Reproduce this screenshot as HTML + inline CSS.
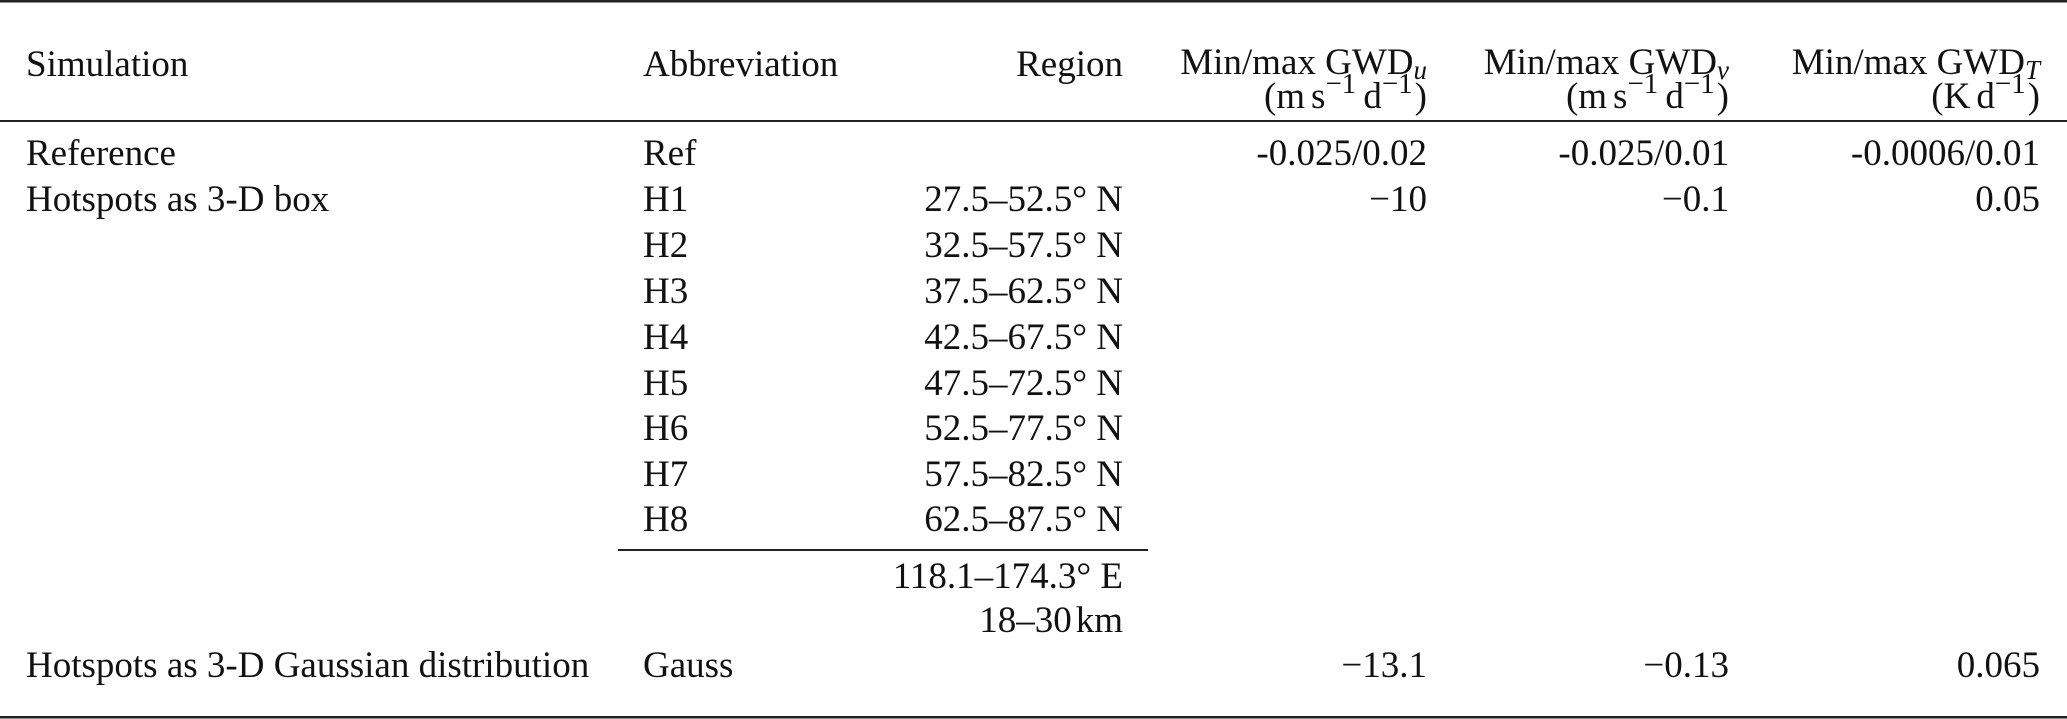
<!DOCTYPE html>
<html><head><meta charset="utf-8"><style>
html,body{margin:0;padding:0;background:#fff;}
svg{display:block;}
text{font-family:"Liberation Serif",serif;font-size:37px;fill:#111;}
</style></head><body>
<svg width="2067" height="719" viewBox="0 0 2067 719" xmlns="http://www.w3.org/2000/svg">
<rect x="0" y="0" width="2067" height="2.5" fill="#222"/>
<rect x="0" y="120" width="2067" height="2" fill="#222"/>
<rect x="618" y="549" width="530" height="2" fill="#222"/>
<rect x="0" y="716" width="2067" height="2.5" fill="#222"/>

<!-- header -->
<text x="26" y="76">Simulation</text>
<text x="643" y="76">Abbreviation</text>
<text x="1123" y="76" text-anchor="end">Region</text>

<text x="1427" y="74" text-anchor="end">Min/max GWD<tspan font-style="italic" font-size="27" dy="5">u</tspan></text>
<text x="1427" y="108" text-anchor="end">(m<tspan dx="6">s</tspan><tspan font-size="29" dy="-15">−1</tspan><tspan dy="15" dx="7">d</tspan><tspan font-size="29" dy="-15">−1</tspan><tspan dy="15" dx="2">)</tspan></text>

<text x="1729" y="74" text-anchor="end">Min/max GWD<tspan font-style="italic" font-size="27" dy="5">v</tspan></text>
<text x="1729" y="108" text-anchor="end">(m<tspan dx="6">s</tspan><tspan font-size="29" dy="-15">−1</tspan><tspan dy="15" dx="7">d</tspan><tspan font-size="29" dy="-15">−1</tspan><tspan dy="15" dx="2">)</tspan></text>

<text x="2040" y="74" text-anchor="end">Min/max GWD<tspan font-style="italic" font-size="27" dy="5">T</tspan></text>
<text x="2040" y="108" text-anchor="end">(K<tspan dx="6">d</tspan><tspan font-size="29" dy="-15">−1</tspan><tspan dy="15" dx="2">)</tspan></text>

<!-- rows -->
<text x="26" y="165">Reference</text>
<text x="643" y="165">Ref</text>
<text x="1427" y="165" text-anchor="end">-0.025/0.02</text>
<text x="1729" y="165" text-anchor="end">-0.025/0.01</text>
<text x="2040" y="165" text-anchor="end">-0.0006/0.01</text>

<text x="26" y="211">Hotspots as 3-D box</text>
<text x="643" y="211">H1</text>
<text x="1123" y="211" text-anchor="end">27.5–52.5° N</text>
<text x="1427" y="211" text-anchor="end">−10</text>
<text x="1729" y="211" text-anchor="end">−0.1</text>
<text x="2040" y="211" text-anchor="end">0.05</text>

<text x="643" y="257">H2</text>
<text x="1123" y="257" text-anchor="end">32.5–57.5° N</text>
<text x="643" y="303">H3</text>
<text x="1123" y="303" text-anchor="end">37.5–62.5° N</text>
<text x="643" y="349">H4</text>
<text x="1123" y="349" text-anchor="end">42.5–67.5° N</text>
<text x="643" y="395">H5</text>
<text x="1123" y="395" text-anchor="end">47.5–72.5° N</text>
<text x="643" y="440">H6</text>
<text x="1123" y="440" text-anchor="end">52.5–77.5° N</text>
<text x="643" y="486">H7</text>
<text x="1123" y="486" text-anchor="end">57.5–82.5° N</text>
<text x="643" y="531">H8</text>
<text x="1123" y="531" text-anchor="end">62.5–87.5° N</text>

<text x="1123" y="588" text-anchor="end">118.1–174.3° E</text>
<text x="1123" y="632" text-anchor="end">18–30<tspan dx="4">km</tspan></text>

<text x="26" y="677">Hotspots as 3-D Gaussian distribution</text>
<text x="643" y="677">Gauss</text>
<text x="1427" y="677" text-anchor="end">−13.1</text>
<text x="1729" y="677" text-anchor="end">−0.13</text>
<text x="2040" y="677" text-anchor="end">0.065</text>
</svg>
</body></html>
